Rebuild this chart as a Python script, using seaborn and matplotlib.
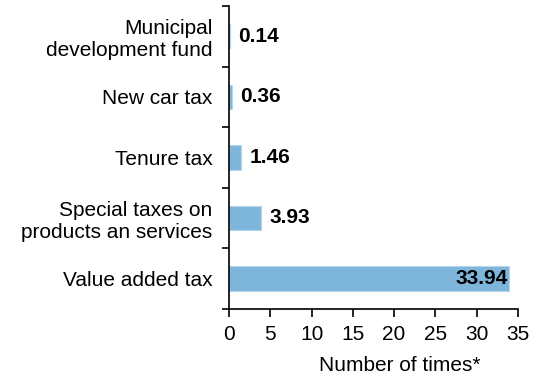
import matplotlib
matplotlib.use("Agg")
import matplotlib.pyplot as plt
import seaborn as sns
import pandas as pd
import numpy as np

categories = [
    "Municipal\ndevelopment fund",
    "New car tax",
    "Tenure tax",
    "Special taxes on\nproducts an services",
    "Value added tax",
]
values = [0.14, 0.36, 1.46, 3.93, 33.94]
x_ticks = [0, 5, 10, 15, 20, 25, 30, 35]

sns.set_style("white")
plt.rcParams["font.family"] = ["Liberation Sans", "DejaVu Sans"]
plt.rcParams["text.color"] = "black"
plt.rcParams["axes.labelcolor"] = "black"
plt.rcParams["xtick.color"] = "black"
plt.rcParams["ytick.color"] = "black"

df = pd.DataFrame({"tax": categories, "times": values})

fig = plt.figure(figsize=(5.48, 3.78), dpi=100)
ax = fig.add_axes([0.418, 0.183, 0.527, 0.801])

sns.barplot(data=df, x="times", y="tax", orient="h", color="#7EB6DB",
            saturation=1, width=0.4, edgecolor="#B5D6EC", linewidth=0.8, ax=ax)

ax.set_xlim(0, 35)
ax.set_ylim(len(categories) - 0.5, -0.5)
ax.set_xticks(x_ticks)
ax.set_xticklabels([str(t) for t in x_ticks], fontsize=15)

# category labels without marks; tick marks sit between categories
ax.tick_params(axis="y", which="major", length=0, pad=12, labelsize=15, labelcolor="black")
ax.set_yticks(np.arange(-0.5, len(categories) + 0.5, 1), minor=True)
ax.tick_params(axis="y", which="minor", length=5, width=1.2, direction="out", color="black", left=True)
ax.tick_params(axis="x", which="major", length=6, width=1.2, direction="out", color="black",
               labelcolor="black", bottom=True, pad=6)

for side in ["top", "right"]:
    ax.spines[side].set_visible(False)
for side in ["left", "bottom"]:
    ax.spines[side].set_color("black")
    ax.spines[side].set_linewidth(1.2)

ax.set_ylabel("")
ax.set_xlabel("Number of times*", fontsize=15, color="black")
ax.xaxis.set_label_coords(0.59, -0.155)

for i, v in enumerate(values):
    if v > 30:
        ax.text(v - 0.15, i, f"{v:.2f}", va="center", ha="right",
                fontsize=15, fontweight="bold", color="black")
    else:
        ax.text(v + 1.0, i, f"{v:.2f}", va="center", ha="left",
                fontsize=15, fontweight="bold", color="black")

fig.savefig("out.png", dpi=100)
